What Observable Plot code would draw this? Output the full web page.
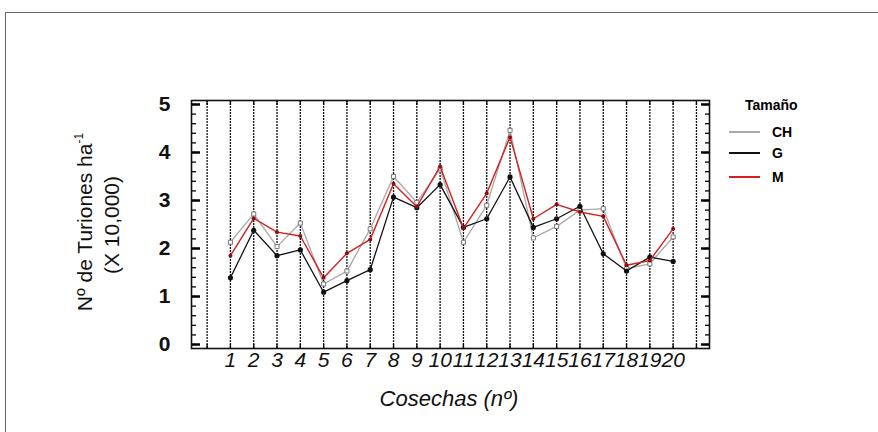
<!DOCTYPE html>
<html>
<head>
<meta charset="utf-8">
<script src="https://cdn.jsdelivr.net/npm/d3@7"></script>
<script src="https://cdn.jsdelivr.net/npm/@observablehq/plot@0.6"></script>
<style>
  body { margin: 0; background: #fff; font-family: "Liberation Sans", Arial, sans-serif; }
  #wrap { position: relative; width: 878px; height: 432px; overflow: hidden; }
  #border { position: absolute; left: 5px; top: 12px; width: 900px; height: 460px; border: 1.5px solid #666; box-sizing: border-box; }
  #legend { position: absolute; left: 0; top: 0; }
  .lg-title { position: absolute; left: 745px; top: 97px; font-weight: bold; font-size: 14px; }
  .lg-item { position: absolute; left: 729px; height: 16px; display: flex; align-items: center; font-weight: bold; font-size: 14px; }
  .lg-item span.sw { display: inline-block; width: 31px; height: 0; margin-right: 12px; }
</style>
</head>
<body>
<div id="wrap">
  <div id="border"></div>
  <div id="chart"></div>
  <div id="legend"></div>
</div>
<script>
const cosechas = [1,2,3,4,5,6,7,8,9,10,11,12,13,14,15,16,17,18,19,20];
const seriesCH = [2.13,2.72,2.04,2.53,1.26,1.53,2.41,3.50,2.96,3.66,2.13,2.90,4.46,2.22,2.46,2.80,2.83,1.58,1.68,2.24];
const seriesG  = [1.39,2.38,1.85,1.97,1.09,1.33,1.56,3.07,2.85,3.33,2.44,2.62,3.49,2.44,2.62,2.88,1.89,1.53,1.82,1.73];
const seriesM  = [1.85,2.63,2.34,2.26,1.39,1.90,2.19,3.35,2.87,3.71,2.42,3.15,4.32,2.62,2.92,2.76,2.67,1.65,1.75,2.41];
const sizeNames = ["CH","G","M"];
const sizeColors = ["#a8a8a8","#111111","#d42020"];
const gridX = d3.range(0, 22);
const yMajor = [0,1,2,3,4,5];
const yMinor = d3.range(0, 51).map(d => d / 10).filter((d, i) => i % 2 === 0);

const rows = [];
[seriesCH, seriesG, seriesM].forEach((vals, s) => {
  vals.forEach((v, i) => rows.push({x: cosechas[i], y: v, size: sizeNames[s]}));
});
const bySize = n => rows.filter(r => r.size === n);

const plot = Plot.plot({
  width: 878,
  height: 432,
  marginLeft: 191,
  marginRight: 169,
  marginTop: 100,
  marginBottom: 84,
  style: {fontFamily: "Liberation Sans, Arial, sans-serif", background: "transparent", overflow: "visible"},
  x: {domain: [-0.67, 21.56], label: null},
  y: {domain: [-0.083, 5.083], label: null},
  marks: [
    Plot.ruleX(gridX, {stroke: "#111", strokeWidth: 1.3, strokeDasharray: "2,1"}),
    Plot.axisY({ticks: yMinor, tickSize: -5, text: null, strokeWidth: 1.3, label: null}),
    Plot.axisY({anchor: "right", ticks: yMinor, tickSize: -5, text: null, strokeWidth: 1.3, label: null}),
    Plot.axisY({ticks: yMajor, tickSize: -9, text: null, strokeWidth: 2.5, label: null}),
    Plot.axisY({anchor: "right", ticks: yMajor, tickSize: -9, text: null, strokeWidth: 2.5, label: null}),
    Plot.axisY({ticks: yMajor, tickFormat: "d", tickSize: 0, tickPadding: 21, fontSize: 21, fontWeight: "bold", fill: "#111", label: null}),
    Plot.axisX({ticks: cosechas, tickFormat: "d", tickSize: 0, tickPadding: 4, fontSize: 21, fontStyle: "italic", fill: "#111", label: null}),
    Plot.axisX({ticks: gridX, tickSize: -4, text: null, strokeWidth: 1.3, label: null}),
    Plot.axisX({anchor: "top", ticks: gridX, tickSize: -4, text: null, strokeWidth: 1.3, label: null}),
    Plot.frame({stroke: "#111", strokeWidth: 1.6}),
    Plot.line(bySize("CH"), {x: "x", y: "y", stroke: sizeColors[0], strokeWidth: 1.3}),
    Plot.dot(bySize("CH"), {x: "x", y: "y", symbol: "square", r: 2.3, stroke: "#777", fill: "white", strokeWidth: 1}),
    Plot.line(bySize("G"), {x: "x", y: "y", stroke: sizeColors[1], strokeWidth: 1.3}),
    Plot.dot(bySize("G"), {x: "x", y: "y", r: 2.6, fill: "#111"}),
    Plot.line(bySize("M"), {x: "x", y: "y", stroke: sizeColors[2], strokeWidth: 1.4}),
    Plot.dot(bySize("M"), {x: "x", y: "y", r: 2, fill: "#8a1010"})
  ]
});
document.getElementById("chart").appendChild(plot);

const svg = d3.select(plot);
const ylab = svg.append("text")
  .attr("transform", "translate(92,222) rotate(-90)")
  .attr("text-anchor", "middle")
  .attr("font-size", 21)
  .attr("fill", "#111");
ylab.append("tspan").text("Nº de Turiones ha");
ylab.append("tspan").attr("font-size", 12).attr("dy", -9).text("-1");
svg.append("text")
  .attr("transform", "translate(119,225) rotate(-90)")
  .attr("text-anchor", "middle")
  .attr("font-size", 21)
  .attr("fill", "#111")
  .text("(X 10,000)");
svg.append("text")
  .attr("x", 449).attr("y", 406)
  .attr("text-anchor", "middle")
  .attr("font-size", 22)
  .attr("font-style", "italic")
  .attr("fill", "#111")
  .text("Cosechas (nº)");

const legend = document.getElementById("legend");
const t = document.createElement("div");
t.className = "lg-title"; t.textContent = "Tamaño";
legend.appendChild(t);
const itemY = [124, 145, 169];
sizeNames.forEach((n, i) => {
  const d = document.createElement("div");
  d.className = "lg-item";
  d.style.top = itemY[i] + "px";
  d.innerHTML = `<span class="sw" style="border-top:2px solid ${sizeColors[i]}"></span>${n}`;
  legend.appendChild(d);
});
</script>
</body>
</html>
